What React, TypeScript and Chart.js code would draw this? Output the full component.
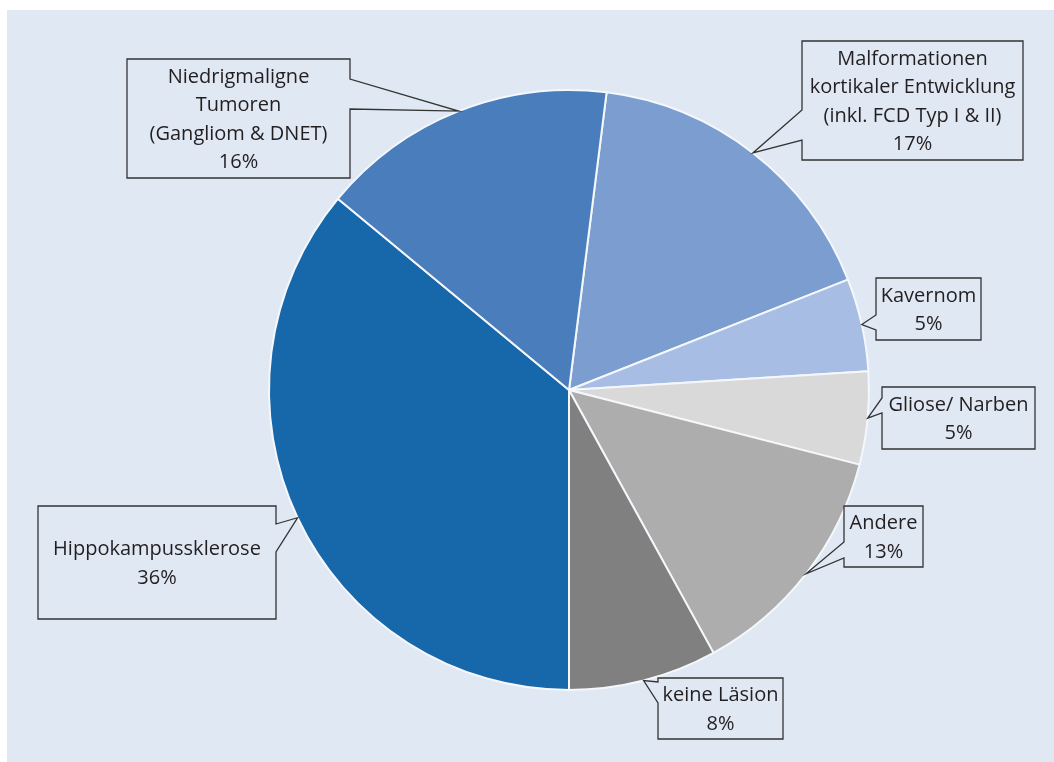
import React, { useEffect, useRef } from "react";
import { Chart, registerables } from "chart.js";

Chart.register(...registerables);

// ---- data ----
const categories = [
  "Malformationen kortikaler Entwicklung (inkl. FCD Typ I & II)",
  "Kavernom",
  "Gliose/ Narben",
  "Andere",
  "keine Läsion",
  "Hippokampussklerose",
  "Niedrigmaligne Tumoren (Gangliom & DNET)",
];
const values = [17, 5, 5, 13, 8, 36, 16];
const labelLines = [
  ["Malformationen", "kortikaler Entwicklung", "(inkl. FCD Typ I & II)"],
  ["Kavernom"],
  ["Gliose/ Narben"],
  ["Andere"],
  ["keine Läsion"],
  ["Hippokampussklerose"],
  ["Niedrigmaligne", "Tumoren", "(Gangliom & DNET)"],
];
const colors = ["#7b9dd0", "#a8bde4", "#d9d9d9", "#adadad", "#808080", "#1767ab", "#4a7dbb"];

// ---- callout layout (canvas coords): box rect, pointer side and pointer base ----
const calloutBoxes = [
  { x: 795, y: 31, w: 221, h: 119, side: "left", b1: 100, b2: 130 },
  { x: 869, y: 268, w: 105, h: 62, side: "left", b1: 305, b2: 320 },
  { x: 875, y: 377, w: 153, h: 62, side: "left", b1: 388, b2: 403 },
  { x: 837, y: 496, w: 79, h: 61, side: "left", b1: 532, b2: 548 },
  { x: 651, y: 668, w: 125, h: 61, side: "left", b1: 672, b2: 693 },
  { x: 31, y: 496, w: 238, h: 113, side: "right", b1: 514, b2: 542 },
  { x: 120, y: 49, w: 223, h: 119, side: "right", b1: 69, b2: 99 },
];

const BG = "#dfe8f3";

const calloutPlugin = {
  id: "callouts",
  afterDraw(chart: any) {
    const ctx = chart.ctx as CanvasRenderingContext2D;
    const meta = chart.getDatasetMeta(0);
    meta.data.forEach((arc: any, i: number) => {
      const p = arc.getProps(["x", "y", "startAngle", "endAngle", "outerRadius"], true);
      const mid = (p.startAngle + p.endAngle) / 2;
      const tx = p.x + Math.cos(mid) * p.outerRadius;
      const ty = p.y + Math.sin(mid) * p.outerRadius;
      const b = calloutBoxes[i];
      const L = b.x, T = b.y, R = b.x + b.w, B = b.y + b.h;
      ctx.save();
      ctx.beginPath();
      if (b.side === "right") {
        ctx.moveTo(L, T);
        ctx.lineTo(R, T);
        ctx.lineTo(R, b.b1);
        ctx.lineTo(tx, ty);
        ctx.lineTo(R, b.b2);
        ctx.lineTo(R, B);
        ctx.lineTo(L, B);
        ctx.closePath();
      } else {
        ctx.moveTo(L, T);
        ctx.lineTo(R, T);
        ctx.lineTo(R, B);
        ctx.lineTo(L, B);
        ctx.lineTo(L, b.b2);
        ctx.lineTo(tx, ty);
        ctx.lineTo(L, b.b1);
        ctx.closePath();
      }
      ctx.fillStyle = BG;
      ctx.fill();
      ctx.lineWidth = 1.3;
      ctx.strokeStyle = "#333333";
      ctx.lineJoin = "miter";
      ctx.stroke();

      const lines = [...labelLines[i], `${values[i]}%`];
      const lh = 28.5;
      const cx = (L + R) / 2;
      const cy = (T + B) / 2 + 1.5;
      ctx.fillStyle = "#231f20";
      ctx.font = '20px "Open Sans"';
      ctx.textAlign = "center";
      ctx.textBaseline = "middle";
      lines.forEach((ln, k) => {
        ctx.fillText(ln, cx, cy + (k - (lines.length - 1) / 2) * lh);
      });
      ctx.restore();
    });
  },
};

export default function App() {
  const ref = useRef<HTMLCanvasElement | null>(null);
  useEffect(() => {
    if (!ref.current) return;
    const chart = new Chart(ref.current, {
      type: "pie",
      data: {
        labels: categories,
        datasets: [
          {
            data: values,
            backgroundColor: colors,
            borderColor: "#f4f7fb",
            borderWidth: 2,
          },
        ],
      },
      options: {
        responsive: false,
        animation: false,
        rotation: 7.2,
        radius: 300,
        layout: { padding: { left: 100, right: 23, top: 20, bottom: 12 } },
        plugins: {
          legend: { display: false },
          tooltip: { enabled: false },
        },
      } as any,
      plugins: [calloutPlugin],
    });
    return () => chart.destroy();
  }, []);
  return (
    <div
      style={{
        position: "fixed",
        left: 7,
        top: 10,
        width: 1047,
        height: 752,
        background: BG,
      }}
    >
      <canvas ref={ref} width={1047} height={752} style={{ display: "block" }} />
    </div>
  );
}
